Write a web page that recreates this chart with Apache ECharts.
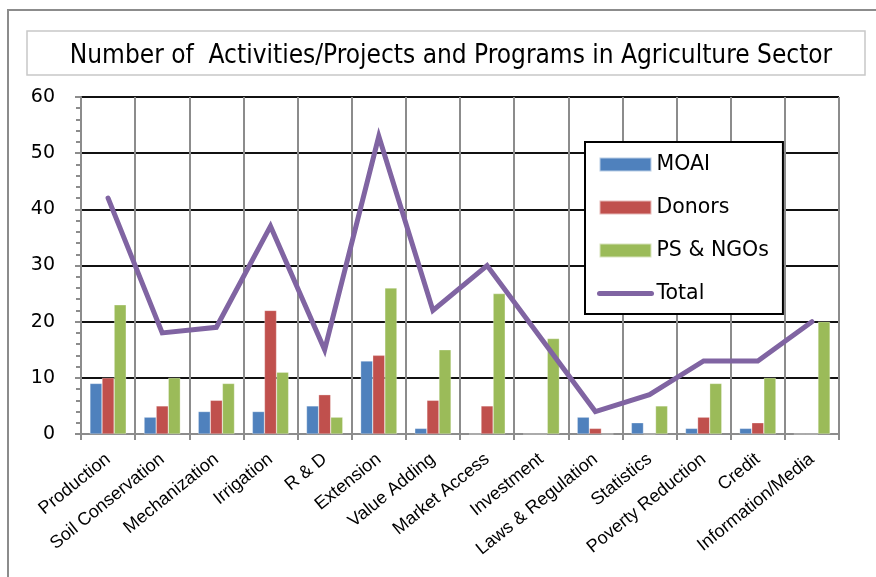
<!DOCTYPE html>
<html>
<head>
<meta charset="utf-8">
<script src="https://cdn.jsdelivr.net/npm/echarts@6/dist/echarts.min.js"></script>
<style>
  html, body { margin: 0; padding: 0; background: #fff; }
  #chart { width: 876px; height: 577px; }
</style>
</head>
<body>
<div id="chart"></div>
<script>
// categories
const categories = [
  'Production', 'Soil Conservation', 'Mechanization', 'Irrigation', 'R & D',
  'Extension', 'Value Adding', 'Market Access', 'Investment', 'Laws & Regulation',
  'Statistics', 'Poverty Reduction', 'Credit', 'Information/Media'
]
// series values
const moai = [9, 3, 4, 4, 5, 13, 1, 0, 0, 3, 2, 1, 1, 0]
const donors = [10, 5, 6, 22, 7, 14, 6, 5, 0, 1, 0, 3, 2, 0]
const psNgos = [23, 10, 9, 11, 3, 26, 15, 25, 17, 0, 5, 9, 10, 20]
const total = [42, 18, 19, 37, 15, 53, 22, 30, 17, 4, 7, 13, 13, 20]

const chart = echarts.init(document.getElementById('chart'))

const barSeries = (name, data, color) => ({
  name: name,
  type: 'bar',
  data: data,
  barGap: '0%',
  barCategoryGap: '33%',
  itemStyle: { color: color, borderColor: 'rgba(255,255,255,0.6)', borderWidth: 0.5 },
})

chart.setOption({
  animation: false,
  textStyle: { fontFamily: '"DejaVu Sans", sans-serif' },
  graphic: [
    {
      type: 'rect',
      shape: { x: 8, y: 10, width: 900, height: 600 },
      style: { fill: 'none', stroke: '#8c8c8c', lineWidth: 2 },
      silent: true,
    },
    {
      type: 'rect',
      shape: { x: 27, y: 31, width: 838, height: 44 },
      style: { fill: 'none', stroke: '#c8c8c8', lineWidth: 1.5 },
      silent: true,
    },
  ],
  title: {
    text: 'Number of  Activities/Projects and Programs in Agriculture Sector',
    left: 446,
    top: 38,
    textAlign: 'center',
    textStyle: {
      fontFamily: '"Liberation Sans Narrow", "DejaVu Sans Condensed", sans-serif',
      fontSize: 26,
      fontWeight: 'normal',
      color: '#000',
    },
  },
  grid: {
    left: 81,
    right: 37,
    top: 97,
    bottom: 143,
    containLabel: false,
  },
  legend: {
    orient: 'vertical',
    left: 585,
    top: 142,
    padding: [12, 14, 10, 12],
    itemWidth: 52,
    itemHeight: 14,
    itemGap: 22,
    borderColor: '#000',
    borderWidth: 2,
    backgroundColor: '#fff',
    textStyle: { fontSize: 20.5, color: '#000', fontFamily: '"DejaVu Sans", sans-serif' },
    data: [
      { name: 'MOAI', icon: 'rect' },
      { name: 'Donors', icon: 'rect' },
      { name: 'PS & NGOs', icon: 'rect' },
      { name: 'Total', itemStyle: { opacity: 0 }, lineStyle: { width: 5, cap: 'round' } },
    ],
  },
  xAxis: {
    type: 'category',
    data: categories,
    axisLine: { lineStyle: { color: '#8c8c8c', width: 2 } },
    axisTick: { show: true, length: 6, lineStyle: { color: '#8c8c8c', width: 2 } },
    splitLine: { show: true, lineStyle: { color: '#8c8c8c', width: 2 } },
    axisLabel: {
      rotate: 39,
      interval: 0,
      margin: 23,
      fontSize: 18,
      color: '#000',
      fontFamily: '"Liberation Sans", Arial, sans-serif',
    },
  },
  yAxis: {
    type: 'value',
    min: 0,
    max: 60,
    interval: 10,
    axisLine: { show: true, lineStyle: { color: '#8c8c8c', width: 2 } },
    axisTick: { show: true, length: 6, lineStyle: { color: '#8c8c8c', width: 2 } },
    minorTick: { show: true, splitNumber: 5, length: 5, lineStyle: { color: '#8c8c8c', width: 2 } },
    splitLine: { show: true, lineStyle: { color: '#111', width: 2 } },
    axisLabel: { fontSize: 19, color: '#000', margin: 26 },
  },
  series: [
    barSeries('MOAI', moai, '#4F81BD'),
    barSeries('Donors', donors, '#C0504D'),
    barSeries('PS & NGOs', psNgos, '#9BBB59'),
    {
      name: 'Total',
      type: 'line',
      data: total,
      symbol: 'none',
      z: 5,
      itemStyle: { color: '#8064A2' },
      lineStyle: { color: '#8064A2', width: 5, cap: 'round', join: 'miter' },
    },
  ],
})
</script>
</body>
</html>
